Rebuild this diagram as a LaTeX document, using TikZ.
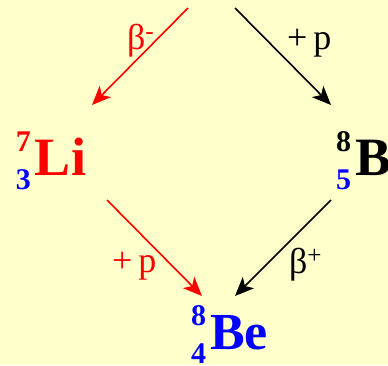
\documentclass[tikz,border=0pt]{standalone}
\usepackage{fontspec}
\setmainfont{Liberation Serif}
\usetikzlibrary{arrows.meta}
\definecolor{bg}{HTML}{FFFFCC}
\definecolor{nblue}{HTML}{0000FF}
\definecolor{nred}{HTML}{FF0000}
% #1 mass, #2 charge, #3 symbol, #4 colour of mass, #5 colour of charge, #6 colour of symbol, #7 size
\newcommand{\nucl}[7]{{\fontsize{30}{30}\selectfont\bfseries\makebox[0pt][l]{\color{#4}\raisebox{24pt}{#1}}\color{#5}\raisebox{-14pt}{#2}}\kern4pt{\fontsize{#7}{#7}\selectfont\bfseries\color{#6}#3}}
\tikzset{
  nuc/.style={inner sep=0pt, outer sep=0pt, anchor=base west},
  lab/.style={inner sep=0pt, outer sep=0pt, anchor=base west, font=\fontsize{36}{36}\selectfont},
  conn/.style={line width=1.6pt, -{Stealth[length=19pt,width=16pt,inset=5pt]}}
}
\begin{document}
\begin{tikzpicture}[x=1pt,y=-1pt]
\fill[bg] (0,0) rectangle (388,365);
\useasboundingbox (0,0) rectangle (388,365);
\node[nuc] (li) at (16,175) {\nucl{7}{3}{Li}{nred}{nblue}{nred}{54}};
\node[nuc] (b) at (336,175) {\nucl{8}{5}{B}{black}{nblue}{black}{54}};
\node[nuc] (be) at (191,349) {\nucl{8}{4}{Be}{nblue}{nblue}{nblue}{52}};
\coordinate (topl) at (188,8);
\coordinate (topr) at (235,8);
\coordinate (lit) at (92,105);
\coordinate (bt) at (331,105);
\coordinate (lib) at (107,200);
\coordinate (bb) at (331,200);
\coordinate (bel) at (202,296);
\coordinate (ber) at (235,296);
\draw[conn, nred] (topl) -- (lit);
\draw[conn, black] (topr) -- (bt);
\draw[conn, nred] (lib) -- (bel);
\draw[conn, black] (bb) -- (ber);
\node[lab, text=nred] (bm) at (127,49) {β\textsuperscript{-}};
\node[lab, text=black] (pa) at (287,49) {+\,p};
\node[lab, text=nred] (pb) at (112,272) {+\,p};
\node[lab, text=black] (bp) at (289,273) {β\textsuperscript{+}};
\end{tikzpicture}
\end{document}
